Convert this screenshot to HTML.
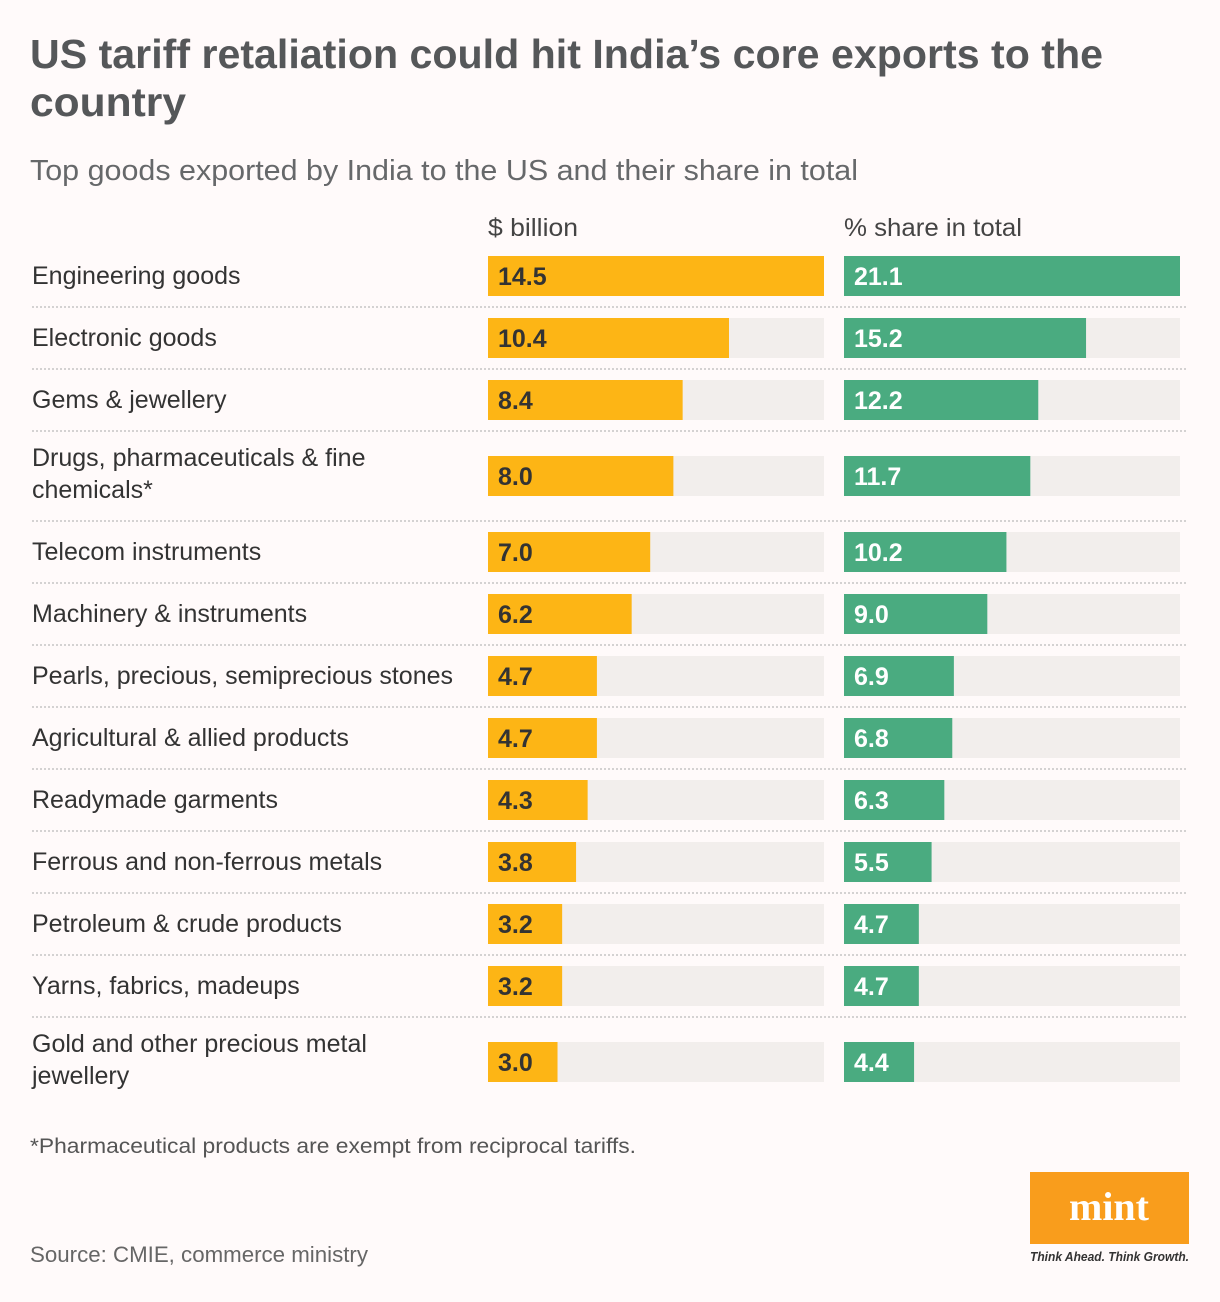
<!DOCTYPE html>
<html><head><meta charset="utf-8"><style>
html,body{margin:0;padding:0;background:#fffafa;}
svg{display:block;font-family:"Liberation Sans",sans-serif;}
</style></head><body>
<svg id="chart" width="1220" height="1302" viewBox="0 0 1220 1302">
<rect width="1220" height="1302" fill="#fffafa"/>
<text x="30" y="68" font-size="41" font-weight="bold" fill="#555759" textLength="1073" lengthAdjust="spacingAndGlyphs">US tariff retaliation could hit India’s core exports to the</text>
<text x="30" y="116" font-size="41" font-weight="bold" fill="#555759" textLength="156" lengthAdjust="spacingAndGlyphs">country</text>
<text x="30" y="180" font-size="29" fill="#66686a" textLength="828" lengthAdjust="spacingAndGlyphs">Top goods exported by India to the US and their share in total</text>
<text x="488" y="236" font-size="25" fill="#444" textLength="90" lengthAdjust="spacingAndGlyphs">$ billion</text>
<text x="844" y="236" font-size="25" fill="#444" textLength="178" lengthAdjust="spacingAndGlyphs">% share in total</text>
<g id="rows"></g>
<text x="30" y="1153" font-size="21" fill="#555" textLength="606" lengthAdjust="spacingAndGlyphs">*Pharmaceutical products are exempt from reciprocal tariffs.</text>
<text x="30" y="1262" font-size="22" fill="#666" textLength="338" lengthAdjust="spacingAndGlyphs">Source: CMIE, commerce ministry</text>
<g>
<rect x="1030" y="1172" width="159" height="72" fill="#f99d1c"/>
<text x="1109" y="1220" font-size="40" font-weight="bold" font-family="Liberation Serif, serif" fill="#fff" text-anchor="middle">mint</text>
<text x="1030" y="1261" font-size="12.5" font-style="italic" font-weight="bold" fill="#333" textLength="159" lengthAdjust="spacingAndGlyphs">Think Ahead. Think Growth.</text>
</g>
</svg>
<script>
const categories=[["Engineering goods"],["Electronic goods"],["Gems & jewellery"],["Drugs, pharmaceuticals & fine","chemicals*"],["Telecom instruments"],["Machinery & instruments"],["Pearls, precious, semiprecious stones"],["Agricultural & allied products"],["Readymade garments"],["Ferrous and non-ferrous metals"],["Petroleum & crude products"],["Yarns, fabrics, madeups"],["Gold and other precious metal","jewellery"]];
const billions=[14.5,10.4,8.4,8.0,7.0,6.2,4.7,4.7,4.3,3.8,3.2,3.2,3.0];
const shares=[21.1,15.2,12.2,11.7,10.2,9.0,6.9,6.8,6.3,5.5,4.7,4.7,4.4];
const billionMax=14.5, shareMax=21.1;
const NS="http://www.w3.org/2000/svg";
const rowsG=document.getElementById('rows');
const W=336, H=40;
const xB=v=>W*v/billionMax, xS=v=>W*v/shareMax;
function mk(tag,attrs,parent){const e=document.createElementNS(NS,tag);for(const k in attrs)e.setAttribute(k,attrs[k]);parent.appendChild(e);return e;}
let rowTop=256;
categories.forEach((lab,i)=>{
  const two=lab.length>1;
  const rowH=two?90:62;
  const barY=two?rowTop+14:rowTop;
  const row=mk('g',{},rowsG);
  
  
  lab.forEach((t,j)=>{
    const tx=mk('text',{x:32,y:two?barY+10+j*32:barY+28,'font-size':25,fill:'#333'},row);
    tx.textContent=t;
    
    
  });
  const t1=mk('rect',{x:488,y:barY,width:W,height:H,fill:'#f2eeec'},row);
  
  
  const b1=mk('rect',{x:488,y:barY,width:xB(billions[i]),height:H,fill:'#fdb515'},row);
  
  
  const v1=mk('text',{x:498,y:barY+29,'font-size':25,'font-weight':'bold',fill:'#333'},row);
  v1.textContent=billions[i].toFixed(1);
  
  
  const t2=mk('rect',{x:844,y:barY,width:W,height:H,fill:'#f2eeec'},row);
  
  
  const b2=mk('rect',{x:844,y:barY,width:xS(shares[i]),height:H,fill:'#4aab80'},row);
  
  
  const v2=mk('text',{x:854,y:barY+29,'font-size':25,'font-weight':'bold',fill:'#fff'},row);
  v2.textContent=shares[i].toFixed(1);
  
  
  if(i<categories.length-1){
    const sy=barY+H+11+(two?14:0);
    const ln=mk('line',{x1:32,x2:1188,y1:sy,y2:sy,stroke:'#d4d2d2','stroke-width':2,'stroke-dasharray':'2 2'},row);
    
    
  }
  rowTop+=rowH;
});
</script>
</body></html>
